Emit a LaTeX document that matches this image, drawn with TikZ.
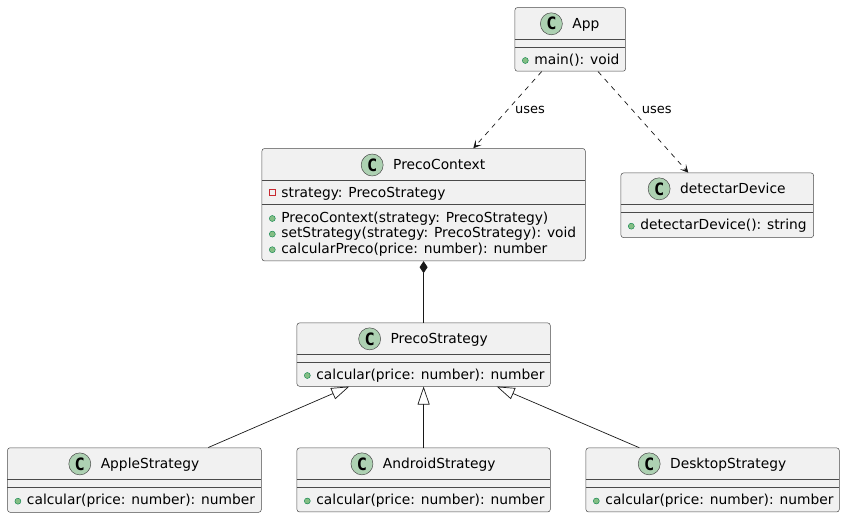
\documentclass[tikz,border=0pt]{standalone}
\usepackage{fontspec}
\setmainfont{DejaVu Sans}
\newfontfamily\monob{DejaVu Sans Mono}
\usetikzlibrary{arrows.meta,calc}
\definecolor{boxfill}{HTML}{F1F1F1}
\definecolor{boxline}{HTML}{4A4A4A}
\definecolor{edgeline}{HTML}{181818}
\definecolor{circfill}{HTML}{ADD1B2}
\definecolor{pubfill}{HTML}{84BE84}
\definecolor{publine}{HTML}{038048}
\definecolor{privline}{HTML}{C82930}
\tikzset{
  cbox/.style={rectangle, rounded corners=2.5pt, draw=boxline, fill=boxfill, line width=0.5pt, inner sep=0pt, anchor=north west},
  sepline/.style={draw=boxline, line width=0.5pt},
  nametext/.style={inner sep=0pt, anchor=base, font=\fontsize{13.8}{16}\selectfont},
  membtext/.style={inner sep=0pt, anchor=base west, font=\fontsize{13.8}{16}\selectfont},
  labeltext/.style={inner sep=0pt, anchor=base west, font=\fontsize{13}{15}\selectfont},
  classcirc/.style={circle, minimum size=22pt, inner sep=0pt, fill=circfill, draw=boxline, line width=0.5pt, font=\monob\bfseries\fontsize{17}{17}\selectfont},
  pubdot/.style={circle, minimum size=6pt, inner sep=0pt, fill=pubfill, draw=publine, line width=0.4pt},
  privsq/.style={rectangle, minimum size=6pt, inner sep=0pt, draw=privline, line width=0.6pt},
  edge/.style={draw=edgeline, line width=0.7pt},
  dep/.style={edge, dash pattern=on 5pt off 5pt, -{Stealth[length=8pt,width=8pt,inset=4pt]}},
  comp/.style={edge, {Diamond[length=12pt,width=8pt,fill=edgeline]}-},
  inh/.style={edge, -{Triangle[open,length=18pt,width=12pt,fill=white]}}
}
\newcommand\umlclass[8]{%
  \pgfmathsetmacro\uw{#4-#2}\pgfmathsetmacro\uh{#5-#3}%
  \node[cbox, minimum width=\uw pt, minimum height=\uh pt] (#1) at (#2,#3) {};
  \draw[sepline] (#2,#6) -- (#4,#6);
  \draw[sepline] (#2,#7) -- (#4,#7);
  \pgfmathsetmacro\ucx{(#2+#4)/2+15.85}\pgfmathsetmacro\ucy{(#3+#6)/2}%
  \node[nametext] (#1-name) at (\ucx,\ucy+5.5) {#8};
  \node[classcirc] (#1-c) at ($(#1-name.base west)+(-20.8,-5)$) {C};
}
\newcommand\pubm[4]{%
  \node[pubdot] (#1-d) at (#2+10.6,#3+1.5) {};
  \node[membtext] (#1) at (#2+19.5,#3+5.2) {#4};
}
\newcommand\privm[4]{%
  \node[privsq] (#1-d) at (#2+10.8,#3+0.3) {};
  \node[membtext] (#1) at (#2+19.5,#3+5.2) {#4};
}
\begin{document}
\begin{tikzpicture}[x=1pt,y=-1pt]
\useasboundingbox (0,0) rectangle (845,518);
% classes
\umlclass{app}{514.7}{7.3}{625.3}{71}{39.3}{47}{App}
\pubm{app-m1}{514.7}{59}{main(): void}

\umlclass{pc}{261.7}{148.3}{585}{260.7}{180.7}{204.3}{PrecoContext}
\privm{pc-a1}{261.7}{192.5}{strategy: PrecoStrategy}
\pubm{pc-m1}{261.7}{217}{PrecoContext(strategy: PrecoStrategy)}
\pubm{pc-m2}{261.7}{232.6}{setStrategy(strategy: PrecoStrategy): void}
\pubm{pc-m3}{261.7}{248.2}{calcularPreco(price: number): number}

\umlclass{dd}{620.7}{172.7}{813.3}{237.3}{204}{212}{detectarDevice}
\pubm{dd-m1}{620.7}{224.7}{detectarDevice(): string}

\umlclass{ps}{296.7}{322.7}{550}{386}{354}{362.3}{PrecoStrategy}
\pubm{ps-m1}{296.7}{374}{calcular(price: number): number}

\umlclass{ap}{7.3}{447.5}{261}{512}{479.3}{487.3}{AppleStrategy}
\pubm{ap-m1}{7.3}{499.7}{calcular(price: number): number}

\umlclass{an}{296.7}{447.7}{550}{511.7}{479}{487.3}{AndroidStrategy}
\pubm{an-m1}{296.7}{499.5}{calcular(price: number): number}

\umlclass{dt}{585.7}{447.7}{839}{511.7}{479}{487.3}{DesktopStrategy}
\pubm{dt-m1}{585.7}{499.5}{calcular(price: number): number}

% connectors
\draw[dep] ($(app.south west)+(27,0)$) -- ($(pc.north west)+(211.6,0)$);
\draw[dep] ($(app.south west)+(83.3,0)$) -- ($(dd.north west)+(67.6,0)$);
\node[labeltext] (l1) at (515,113.3) {uses};
\node[labeltext] (l2) at (641.7,113.3) {uses};
\draw[comp] (pc.south) -- (ps.north);
\draw[inh] ($(ap.north west)+(201,0)$) -- ($(ps.south west)+(52.6,0)$);
\draw[inh] (an.north) -- (ps.south);
\draw[inh] ($(dt.north west)+(53.6,0)$) -- ($(ps.south west)+(200,0)$);
\end{tikzpicture}
\end{document}
